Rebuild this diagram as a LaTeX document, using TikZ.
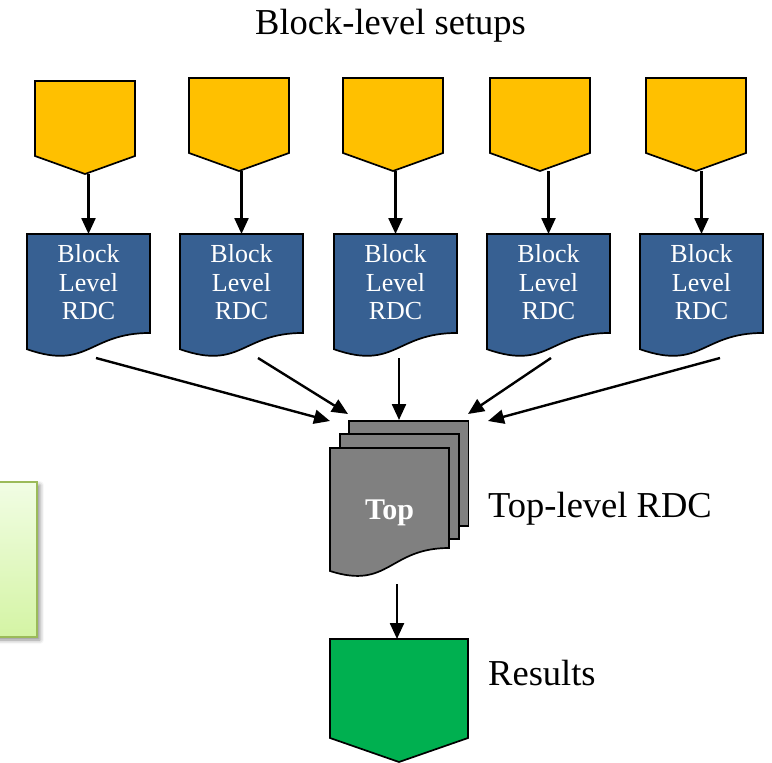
\documentclass[tikz,border=0pt]{standalone}
\usepackage{fontspec}
\setmainfont{Liberation Serif}
\usetikzlibrary{arrows.meta,shadows.blur}

\definecolor{setupyellow}{HTML}{FFC000}
\definecolor{rdcblue}{HTML}{376092}
\definecolor{topgray}{HTML}{808080}
\definecolor{resgreen}{HTML}{00B050}
\definecolor{noteedge}{HTML}{9BBB59}
\definecolor{notetop}{HTML}{F1FDE4}
\definecolor{notebot}{HTML}{D4F4A4}

\tikzset{
  shapeline/.style={draw=black, line width=1.7pt, line join=miter},
  flowarrow/.style={line width=2.4pt, -{Triangle[length=16pt,width=14pt]}},
  doctext/.style={text=white, font=\fontsize{26}{28.5}\selectfont, align=center, inner sep=0pt},
  captiontext/.style={font=\fontsize{36.5}{40}\selectfont, inner sep=0pt},
  notebox/.style={draw=noteedge, line width=2pt, top color=notetop, bottom color=notebot,
    blur shadow={shadow xshift=3pt, shadow yshift=-3pt, shadow blur radius=4pt, shadow opacity=45}},
}

% pentagon (off-page connector): fill, left, width, top, side bottom, tip
\newcommand\pentashape[6]{%
  \path[shapeline, fill=#1] (#2,#4) -- ({#2+#3},#4) -- ({#2+#3},#5) -- ({#2+#3/2},#6) -- (#2,#5) -- cycle;
}
% flowchart document: name, left, top, width, height
\newcommand\docshape[5]{%
  \path[shapeline, fill=rdcblue] (#2,#3) -- ({#2+#4},#3) -- ({#2+#4},{#3+0.802*#5})
    .. controls ({#2+0.5*#4},{#3+0.802*#5}) and ({#2+0.5*#4},{#3+1.1075*#5}) .. (#2,{#3+0.934*#5}) -- cycle;
  \node[doctext] (#1) at ({#2+#4/2},{#3+48.5}) {Block\\Level\\RDC};
}

\begin{document}
\begin{tikzpicture}[x=1pt, y=-1pt]
  \useasboundingbox (0,0) rectangle (772,763);

  % heading
  \node[captiontext, anchor=base] (setups) at (390.5,34) {Block-level setups};

  % block-level setups
  \pentashape{setupyellow}{35}{100}{81}{156}{174}
  \pentashape{setupyellow}{189}{100}{78}{153}{171}
  \pentashape{setupyellow}{343}{100}{78}{153}{171}
  \pentashape{setupyellow}{490}{100}{78}{153}{171}
  \pentashape{setupyellow}{646}{100}{78}{153}{171}

  % block-level RDC documents
  \docshape{d1}{27}{234}{123}{123.4}
  \docshape{d2}{180}{234}{123}{123.4}
  \docshape{d3}{334}{234}{123}{123.4}
  \docshape{d4}{487}{234}{123}{123.4}
  \docshape{d5}{640}{234}{123}{123.4}

  % connector ends
  \coordinate (s1) at (88.5,174);   \coordinate (d1in) at (88.5,234);
  \coordinate (s2) at (241.5,171);  \coordinate (d2in) at (241.5,234);
  \coordinate (s3) at (395.5,171);  \coordinate (d3in) at (395.5,234);
  \coordinate (s4) at (548.5,171);  \coordinate (d4in) at (548.5,234);
  \coordinate (s5) at (701.5,171);  \coordinate (d5in) at (701.5,234);

  \coordinate (d1out) at (96,358);   \coordinate (t1) at (330,421);
  \coordinate (d2out) at (258,358);  \coordinate (t2) at (348,414);
  \coordinate (d3out) at (399,358);  \coordinate (t3) at (399,420);
  \coordinate (d4out) at (551,358);  \coordinate (t4) at (468,414);
  \coordinate (d5out) at (720,358);  \coordinate (t5) at (488,421);

  \coordinate (topout) at (397,584); \coordinate (resin) at (397,639);

  % top-level RDC stack
  \path[shapeline, fill=topgray] (349,421) rectangle (468.5,526);
  \path[shapeline, fill=topgray] (340,434) rectangle (459,539);
  \path[shapeline, fill=topgray] (330,448) -- (449,448) -- (449,548)
    .. controls (389,548) and (389,590) .. (330,571) -- cycle;
  \node[text=white, font=\bfseries\fontsize{30}{32}\selectfont, anchor=base, inner sep=0pt] (topname) at (389.5,519) {Top};
  \node[captiontext, anchor=base west] (toplabel) at (488,517) {Top-level RDC};

  % results
  \pentashape{resgreen}{330}{138}{639}{738}{762}
  \node[captiontext, anchor=base west] (reslabel) at (488,685) {Results};

  % side note box
  \node[notebox, minimum width=57pt, minimum height=155pt, inner sep=0pt] (note) at (8.5,559.5) {};

  % connectors
  \foreach \i in {1,...,5} {
    \draw[flowarrow] (s\i) -- (d\i in);
    \draw[flowarrow] (d\i out) -- (t\i);
  }
  \draw[flowarrow] (topout) -- (resin);
\end{tikzpicture}
\end{document}
